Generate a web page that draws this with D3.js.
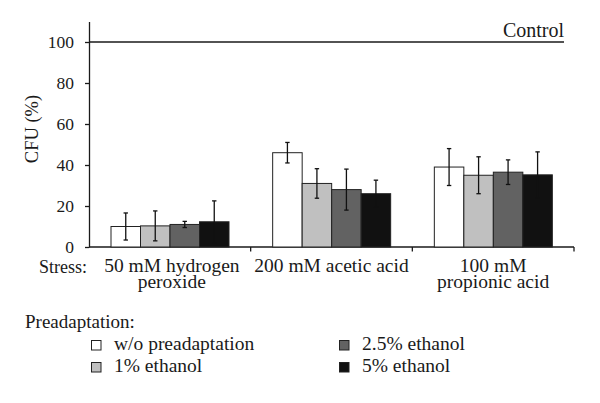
<!DOCTYPE html>
<html><head><meta charset="utf-8">
<script src="https://cdn.jsdelivr.net/npm/d3@7"></script>
<style>
html,body{margin:0;padding:0;background:#fff;}
svg{display:block;}
</style></head>
<body>
<svg id="chart" width="600" height="403"></svg>
<script>
const groups = ["50 mM hydrogen peroxide", "200 mM acetic acid", "100 mM propionic acid"];
const groupLines = [["50 mM hydrogen", "peroxide"], ["200 mM acetic acid"], ["100 mM", "propionic acid"]];
const series = ["w/o preadaptation", "1% ethanol", "2.5% ethanol", "5% ethanol"];
const colors = ["#ffffff", "#c0c0c0", "#626262", "#111111"];
const values = [
  [10, 10.3, 11, 12.3],
  [46, 31, 28, 26],
  [39, 35, 36.5, 35.2]
];
const errors = [
  [6.6, 7.3, 1.5, 10.2],
  [5, 7.2, 10, 6.6],
  [9, 9, 6, 11.2]
];
const yTicks = [0, 20, 40, 60, 80, 100];
const controlValue = 100;

const svg = d3.select("#chart");
const x0 = d3.scaleBand().domain(groups).range([89, 574]).paddingInner(0).paddingOuter(0);
const x1 = d3.scaleBand().domain(series).range([22, 140]).padding(0);
const y = d3.scaleLinear().domain([0, 110]).range([247, 21.5]);

// Y axis
const yAxis = svg.append("g").attr("transform", "translate(89,0)")
  .call(d3.axisLeft(y).tickValues(yTicks).tickSize(4).tickSizeOuter(0).tickPadding(11));
yAxis.attr("font-family", null).attr("font-size", null);
yAxis.selectAll("path,line").attr("stroke", "#1a1a1a").attr("stroke-width", 1.3);
yAxis.selectAll("text").style("font-size", "17.5px");

// X axis
const xAxis = svg.append("g").attr("transform", "translate(0,247)");
xAxis.append("line").attr("x1", 89).attr("x2", 574).attr("y1", 0).attr("y2", 0)
  .attr("stroke", "#1a1a1a").attr("stroke-width", 1.3);
const bounds = groups.map(g => x0(g) + x0.bandwidth());
xAxis.selectAll("line.tk").data(bounds).join("line").attr("class", "tk")
  .attr("x1", d => d).attr("x2", d => d).attr("y1", 0).attr("y2", 4.5)
  .attr("stroke", "#1a1a1a").attr("stroke-width", 1.3);

// Control line
svg.append("line").attr("x1", 89).attr("x2", 564).attr("y1", y(controlValue)).attr("y2", y(controlValue))
  .attr("stroke", "#1a1a1a").attr("stroke-width", 1.4);
svg.append("text").attr("x", 564).attr("y", y(controlValue) - 5).attr("text-anchor", "end")
  .style("font-size", "20px").text("Control");

// Bars
const gg = svg.selectAll("g.grp").data(groups).join("g").attr("class", "grp")
  .attr("transform", d => `translate(${x0(d)},0)`);
gg.each(function(g, gi) {
  const sel = d3.select(this);
  series.forEach((s, si) => {
    const v = values[gi][si], e = errors[gi][si];
    sel.append("rect").attr("x", x1(s)).attr("y", y(v)).attr("width", x1.bandwidth()).attr("height", y(0) - y(v))
      .attr("fill", colors[si]).attr("stroke", "#222").attr("stroke-width", 1);
    const cx = x1(s) + x1.bandwidth() / 2;
    const lo = Math.max(0, v - e);
    sel.append("line").attr("x1", cx).attr("x2", cx).attr("y1", y(v + e)).attr("y2", y(lo))
      .attr("stroke", "#111").attr("stroke-width", 1.3);
    [v + e, lo].forEach(t => sel.append("line").attr("x1", cx - 2.2).attr("x2", cx + 2.2).attr("y1", y(t)).attr("y2", y(t))
      .attr("stroke", "#111").attr("stroke-width", 1.3));
  });
});

// Category labels
svg.append("text").attr("x", 39).attr("y", 272.5).style("font-size", "18px").text("Stress:");
groups.forEach((g, gi) => {
  const cx = x0(g) + x0.bandwidth() / 2;
  groupLines[gi].forEach((ln, li) => {
    svg.append("text").attr("x", cx + (gi === 0 ? 2 : 0)).attr("y", 272 + li * 16).attr("text-anchor", "middle")
      .style("font-size", "19.5px").text(ln);
  });
});

// Y label
svg.append("text").attr("transform", "translate(38,129) rotate(-90)").attr("text-anchor", "middle")
  .style("font-size", "18.5px").text("CFU (%)");

// Legend
svg.append("text").attr("x", 25).attr("y", 328).style("font-size", "19px").text("Preadaptation:");
const legPos = [[91, 350], [91, 372], [339, 350], [339, 372]];
series.forEach((s, si) => {
  const [lx, ly] = legPos[si];
  svg.append("rect").attr("x", lx + 0.5).attr("y", ly - 9.5).attr("width", 9.5).attr("height", 9.5)
    .attr("fill", colors[si]).attr("stroke", "#222").attr("stroke-width", 1);
  svg.append("text").attr("x", lx + 23).attr("y", ly).style("font-size", "19.5px").text(s);
});

svg.selectAll("text").style("font-family", "'Liberation Serif', serif").attr("fill", "#1a1a1a");
</script>
</body></html>
